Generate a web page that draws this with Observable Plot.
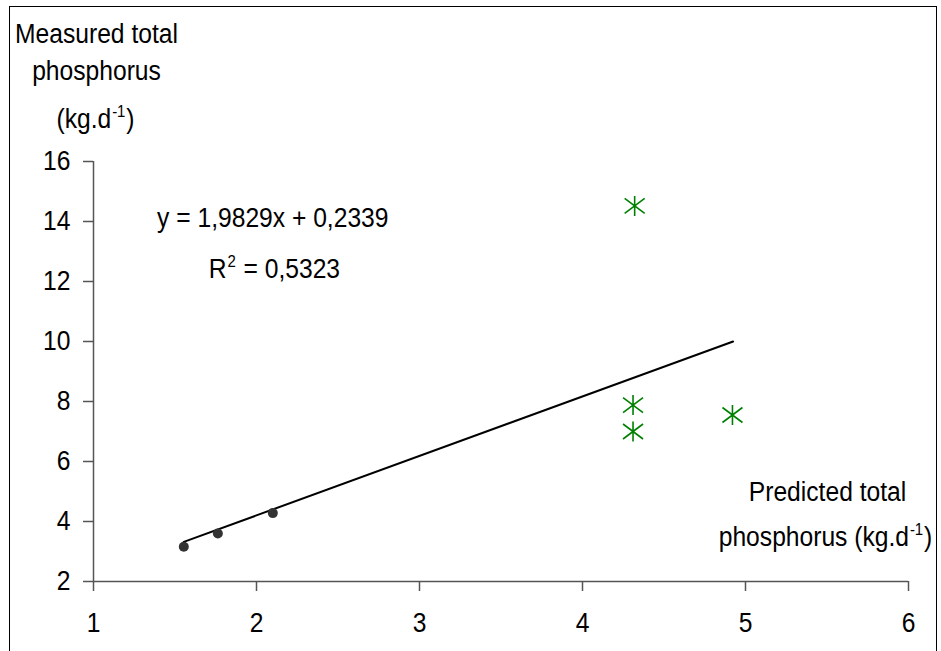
<!DOCTYPE html>
<html>
<head>
<meta charset="utf-8">
<script src="https://cdn.jsdelivr.net/npm/d3@7"></script>
<script src="https://cdn.jsdelivr.net/npm/@observablehq/plot@0.6"></script>
<style>
  html, body { margin: 0; padding: 0; background: #fff; overflow: hidden; }
  #wrap { position: relative; width: 941px; height: 651px; }
  #frame { position: absolute; left: 9px; top: 6px; width: 928px; height: 700px; border: 1.5px solid #000; box-sizing: border-box; pointer-events: none; }
  svg { display: block; }
</style>
</head>
<body>
<div id="wrap"><div id="frame"></div></div>
<script>
// ---- data ----
const measuredX = [1.554, 1.763, 2.10];
const measuredY = [3.16, 3.60, 4.28];
const starX = [4.32, 4.31, 4.31, 4.92];
const starY = [14.52, 7.88, 7.00, 7.55];
const trendX = [1.554, 4.924];
const trendY = [3.32, 10.00];
const xTicks = [1, 2, 3, 4, 5, 6];
const yTicks = [2, 4, 6, 8, 10, 12, 14, 16];
const yTitleLines = ["Measured total", "phosphorus", "(kg.d^{-1})"];
const xTitleLines = ["Predicted total", "phosphorus (kg.d^{-1})"];
const equationLines = ["y = 1,9829x + 0,2339", "R^{2} = 0,5323"];

const FONT = '"Liberation Sans", Arial, sans-serif';
const FS = 28;
const NARROW = 0.88;
const AXIS = "#555";

const dots = measuredX.map((x, i) => ({x, y: measuredY[i]}));
const stars = starX.map((x, i) => ({x, y: starY[i]}));
const trend = trendX.map((x, i) => ({x, y: trendY[i]}));

const asterisk = {
  draw(context, size) {
    const s = Math.sqrt(size / Math.PI);
    const t = s * 0.75;
    context.moveTo(0, -s); context.lineTo(0, s);
    context.moveTo(-s, -t); context.lineTo(s, t);
    context.moveTo(-s, t); context.lineTo(s, -t);
  }
};

const chart = Plot.plot({
  width: 941,
  height: 651,
  marginLeft: 93,
  marginRight: 33,
  marginTop: 161,
  marginBottom: 70,
  style: {fontFamily: FONT, fontSize: FS + "px", color: "#000", background: "transparent", overflow: "visible"},
  x: {domain: [xTicks[0], xTicks[xTicks.length - 1]]},
  y: {domain: [yTicks[0], yTicks[yTicks.length - 1]]},
  marks: [
    Plot.axisY({ticks: yTicks, tickFormat: d => String(d), tickSize: 10, tickPadding: 13, label: null, stroke: AXIS, strokeWidth: 1.5, fill: "#000", fontSize: FS}),
    Plot.axisX({ticks: xTicks, tickFormat: d => String(d), tickSize: 10, tickPadding: 21, label: null, stroke: AXIS, strokeWidth: 1.5, fill: "#000", fontSize: FS}),
    Plot.ruleX([xTicks[0]], {y1: yTicks[0], y2: yTicks[yTicks.length - 1], stroke: AXIS, strokeWidth: 1.5}),
    Plot.ruleY([yTicks[0]], {x1: xTicks[0], x2: xTicks[xTicks.length - 1], stroke: AXIS, strokeWidth: 1.5}),
    Plot.line(trend, {x: "x", y: "y", stroke: "#000", strokeWidth: 2}),
    Plot.dot(dots, {x: "x", y: "y", r: 5, fill: "#333", stroke: "none"}),
    Plot.dot(stars, {x: "x", y: "y", r: 10, symbol: asterisk, stroke: "#008000", strokeWidth: 1.6, fill: "none"}),
    Plot.text([equationLines[0]], {x: 2.10, y: 14.1, text: d => d, textAnchor: "middle", lineAnchor: "middle", fontSize: FS, fill: "#000"}),
    Plot.text([equationLines[1]], {x: 2.11, y: 12.42, text: d => d, textAnchor: "middle", lineAnchor: "middle", fontSize: FS, fill: "#000"}),
    Plot.text([yTitleLines[0]], {frameAnchor: "top-left", dx: 3, dy: -119, text: d => d, textAnchor: "middle", lineAnchor: "bottom", fontSize: FS, fill: "#000"}),
    Plot.text([yTitleLines[1]], {frameAnchor: "top-left", dx: 3, dy: -82, text: d => d, textAnchor: "middle", lineAnchor: "bottom", fontSize: FS, fill: "#000"}),
    Plot.text([yTitleLines[2]], {frameAnchor: "top-left", dx: 2, dy: -34, text: d => d, textAnchor: "middle", lineAnchor: "bottom", fontSize: FS, fill: "#000"}),
    Plot.text([xTitleLines[0]], {frameAnchor: "bottom-right", dx: -81, dy: -81, text: d => d, textAnchor: "middle", lineAnchor: "bottom", fontSize: FS, fill: "#000"}),
    Plot.text([xTitleLines[1]], {frameAnchor: "bottom-right", dx: -83, dy: -36, text: d => d, textAnchor: "middle", lineAnchor: "bottom", fontSize: FS, fill: "#000"})
  ]
});

// render ^{...} markers as superscripts
const SVGNS = "http://www.w3.org/2000/svg";
chart.querySelectorAll("text").forEach(t => {
  const s = t.textContent;
  if (!s.includes("^{")) return;
  const m = s.match(/^(.*)\^\{(.*?)\}(.*)$/);
  if (!m) return;
  while (t.firstChild) t.removeChild(t.firstChild);
  const a = document.createElementNS(SVGNS, "tspan"); a.textContent = m[1];
  const b = document.createElementNS(SVGNS, "tspan"); b.textContent = m[2];
  b.setAttribute("font-size", Math.round(FS * 0.6)); b.setAttribute("dy", -11); b.setAttribute("dx", 1);
  const c = document.createElementNS(SVGNS, "tspan"); c.textContent = m[3];
  c.setAttribute("dy", 11); c.setAttribute("dx", 1);
  t.append(a, b, c);
});

document.getElementById("wrap").prepend(chart);

// narrow the glyphs (the reference uses a condensed face): scale each text horizontally about its anchor
chart.querySelectorAll("text").forEach(t => {
  const anchor = getComputedStyle(t).textAnchor;
  const r = t.getBoundingClientRect();
  const sx = anchor === "middle" ? (r.left + r.right) / 2 : anchor === "end" ? r.right : r.left;
  const parent = t.parentNode;
  const pt = chart.createSVGPoint();
  pt.x = sx; pt.y = r.top;
  const p = pt.matrixTransform(parent.getScreenCTM().inverse());
  const g = document.createElementNS(SVGNS, "g");
  g.setAttribute("transform", `translate(${p.x.toFixed(2)},0) scale(${NARROW},1) translate(${(-p.x).toFixed(2)},0)`);
  parent.insertBefore(g, t);
  g.appendChild(t);
});
</script>
</body>
</html>
